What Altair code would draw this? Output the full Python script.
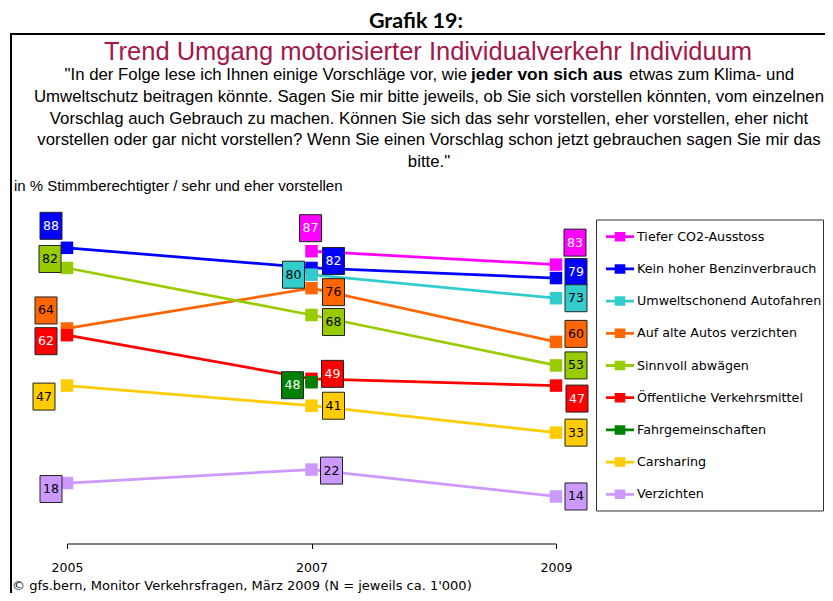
import altair as alt
import pandas as pd

# ---------------- data ----------------
years = [2005, 2007, 2009]
series = ["Tiefer CO2-Ausstoss", "Kein hoher Benzinverbrauch", "Umweltschonend Autofahren",
          "Auf alte Autos verzichten", "Sinnvoll abwägen", "Öffentliche Verkehrsmittel",
          "Fahrgemeinschaften", "Carsharing", "Verzichten"]
v_co2 = [None, 87, 83]
v_benzin = [88, 82, 79]
v_umwelt = [None, 80, 73]
v_alte = [64, 76, 60]
v_sinnvoll = [82, 68, 53]
v_oev = [62, 49, 47]
v_fahrgem = [None, 48, None]
v_carsharing = [47, 41, 33]
v_verzichten = [18, 22, 14]
values = [v_co2, v_benzin, v_umwelt, v_alte, v_sinnvoll, v_oev, v_fahrgem, v_carsharing, v_verzichten]

# ---------------- styles ----------------
colors = ["#FF00FF", "#0000FF", "#33CCCC", "#FF6600", "#99CC00", "#FF0000", "#008000", "#FFCC00", "#CC99FF"]
text_colors = ["white", "white", "black", "black", "black", "white", "white", "black", "black"]
# label box offsets in pixels relative to the point (per series, per year)
lab_dx = [[0, -1, 19], [-16, 22, 20], [0, -18, 20], [-21, 22, 20], [-17, 22, 20],
          [-21, 21, 21], [0, -19, 0], [-23, 22, 20], [-16, 20, 20]]
lab_dy = [[0, -23, -22], [-22, -7, -6], [0, 0, 0], [-18, 4, -8], [-9, 7, 0],
          [6, -5, 13], [0, 3, 0], [11, 0, 0], [6, 1, 0]]

rows = []
for i, s in enumerate(series):
    for j, yr in enumerate(years):
        v = values[i][j]
        if v is None:
            continue
        rows.append({"series": s, "ord": i, "year": yr, "value": v,
                     "color": colors[i], "tcolor": text_colors[i],
                     "dx": lab_dx[i][j], "dy": lab_dy[i][j]})
df = pd.DataFrame(rows)

PAD_L, PAD_T = 59, 199.5
W, H = 489, 336
PAD_R = 817 - PAD_L - W
PAD_B = 585 - PAD_T - H
OX, OY = 8 + PAD_L, 8 + PAD_T
X_DOM = [2005, 2009]
Y_DOM = [0, 100]


def px(x):
    return x - OX


def py(y):
    return y - OY


xscale = alt.Scale(domain=X_DOM, nice=False, zero=False)
yscale = alt.Scale(domain=Y_DOM, nice=False)
xaxis = alt.Axis(values=years, format="d", title=None, grid=False, tickSize=5,
                 labelPadding=13, domainColor="black", tickColor="black",
                 labelColor="black", labelFont="DejaVu Sans", labelFontSize=12.5,
                 labelFlush=False, domainWidth=1, tickWidth=1)

X = alt.X("year:Q", scale=xscale, axis=xaxis)
Y = alt.Y("value:Q", scale=yscale, axis=None)

base = alt.Chart(df)

lines = base.mark_line(strokeWidth=2.75).encode(
    x=X, y=Y,
    stroke=alt.Stroke("color:N", scale=None),
    detail="series:N",
    order="year:Q",
)

LEG_SYM = "M-1,-0.1H-0.38V-0.34H0.38V-0.1H1V0.1H0.38V0.34H-0.38V0.1H-1Z"

points = base.mark_point(shape="square", size=156, filled=True, opacity=1, strokeWidth=0).encode(
    x=X, y=Y,
    fill=alt.Fill("series:N", scale=alt.Scale(domain=series, range=colors),
                  legend=alt.Legend(title=None, orient="none",
                                    legendX=px(606), legendY=py(222.7),
                                    symbolType=LEG_SYM, symbolSize=784,
                                    symbolStrokeWidth=0, symbolOpacity=1,
                                    labelFont="DejaVu Sans", labelFontSize=12.7,
                                    labelColor="black", rowPadding=11.2,
                                    labelOffset=3, padding=0, labelLimit=300)),
    order=alt.Order("ord:Q"),
)

# label anchor = point shifted by (dx, dy) pixels, converted through the scale ratios
lab_base = base.transform_calculate(
    lx=f"datum.year + datum.dx * {(X_DOM[1] - X_DOM[0]) / W}",
    ly=f"datum.value - datum.dy * {(Y_DOM[1] - Y_DOM[0]) / H}",
)
LX = alt.X("lx:Q", scale=xscale, axis=xaxis)
LY = alt.Y("ly:Q", scale=yscale, axis=None)

BOX = "M-1,-1.227H1V1.227H-1Z"
boxes = lab_base.mark_point(shape=BOX, size=484, filled=True, opacity=1,
                            stroke="#222222", strokeWidth=1).encode(
    x=LX, y=LY,
    fill=alt.Fill("color:N", scale=None),
)

labels = lab_base.mark_text(font="DejaVu Sans", fontSize=12.5, baseline="middle", align="center").encode(
    x=LX, y=LY,
    text=alt.Text("value:Q"),
    color=alt.Color("tcolor:N", scale=None),
)

one = alt.Data(values=[{"k": 1}])

frame_left = alt.Chart(one).mark_rule(color="black", strokeWidth=2).encode(
    x=alt.value(px(11)), y=alt.value(py(33)), y2=alt.value(py(593)))
frame_top = alt.Chart(one).mark_rule(color="black", strokeWidth=2).encode(
    x=alt.value(px(10)), x2=alt.value(px(825)), y=alt.value(py(34)))
legend_box = alt.Chart(one).mark_rect(fill="transparent", stroke="#333333", strokeWidth=1).encode(
    x=alt.value(px(596.5)), x2=alt.value(px(823.5)), y=alt.value(py(220)), y2=alt.value(py(511)))


def txt(s, x, y, size, font="Liberation Sans", weight="normal", align="left", color="black"):
    return alt.Chart(one).mark_text(text=s, font=font, fontSize=size, fontWeight=weight,
                                    align=align, baseline="alphabetic", color=color).encode(
        x=alt.value(px(x)), y=alt.value(py(y)))


SUB = 16.8
texts = [
    txt("Grafik 19:", 416, 28, 21.5, font="Lato", weight="bold", align="center"),
    txt("Trend Umgang motorisierter Individualverkehr Individuum", 428, 60, 25.5,
        align="center", color="#A3174A"),
    txt("\"In der Folge lese ich Ihnen einige Vorschläge vor, wie", 467, 80, SUB, align="right"),
    txt("jeder von sich aus", 471, 80, 17.4, weight="bold"),
    txt("etwas zum Klima- und", 629, 80, SUB),
    txt("Umweltschutz beitragen könnte. Sagen Sie mir bitte jeweils, ob Sie sich vorstellen könnten, vom einzelnen",
        429, 102, SUB, align="center"),
    txt("Vorschlag auch Gebrauch zu machen. Können Sie sich das sehr vorstellen, eher vorstellen, eher nicht",
        429, 123.5, SUB, align="center"),
    txt("vorstellen oder gar nicht vorstellen? Wenn Sie einen Vorschlag schon jetzt gebrauchen sagen Sie mir das",
        429, 145, SUB, align="center"),
    txt("bitte.\"", 429, 166.5, SUB, align="center"),
    txt("in % Stimmberechtigter / sehr und eher vorstellen", 14, 191, 15),
    txt("© gfs.bern, Monitor Verkehrsfragen, März 2009 (N = jeweils ca. 1'000)", 12, 590, 13,
        font="DejaVu Sans"),
]

chart = alt.layer(lines, points, boxes, labels, frame_left, frame_top, legend_box, *texts).properties(
    width=W, height=H,
    padding={"left": PAD_L, "top": PAD_T, "right": PAD_R, "bottom": PAD_B},
    autosize=alt.AutoSizeParams(type="none"),
    background="white",
).configure_view(stroke=None)

chart.save("out.html", embed_options={"renderer": "svg", "actions": False})
